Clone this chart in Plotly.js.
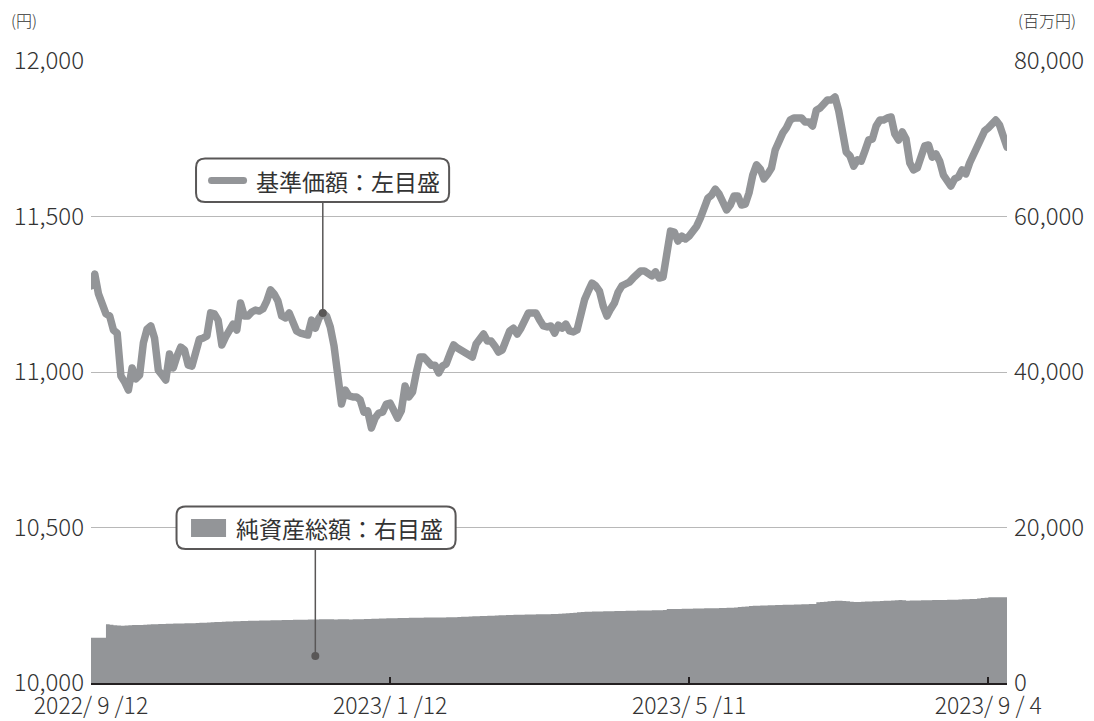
<!DOCTYPE html>
<html><head><meta charset="utf-8">
<script src="https://cdn.plot.ly/plotly-3.0.1.min.js"></script>
<style>
html,body{margin:0;padding:0;background:#fff;}
#chart{width:1094px;height:721px;}
.scatterlayer .js-line{stroke-linejoin:round;stroke-linecap:round;}
</style></head><body><div id="chart"></div>
<script>
// x categories: business-day index, ticks every 80 days
const tickIndex = [0, 80, 160, 240];
const tickLabels = ["2022/ 9 /12", "2023/ 1 /12", "2023/ 5 /11", "2023/ 9 / 4"];

// 基準価額 (円), left axis
const navPrice = [
11277,11315,11251,11215,11187,11180,11135,11125,10987,10968,
10942,11013,10978,10990,11093,11138,11148,11109,11006,10990,
10974,11058,11013,11051,11080,11071,11022,11019,11061,11106,
11109,11116,11190,11187,11167,11087,11113,11138,11154,11135,
11222,11180,11180,11193,11199,11196,11203,11228,11264,11251,
11228,11180,11174,11190,11154,11132,11125,11125,11119,11167,
11141,11174,11190,11180,11145,11084,10974,10897,10942,10923,
10920,10920,10910,10871,10875,10820,10852,10868,10871,10897,
10900,10875,10852,10875,10955,10920,10936,10997,11048,11048,
11032,11022,11022,10997,11019,11026,11058,11087,11077,11071,
11064,11055,11048,11090,11106,11122,11100,11100,11084,11064,
11071,11100,11132,11141,11122,11141,11174,11190,11190,11190,
11167,11148,11145,11148,11125,11151,11141,11154,11132,11129,
11135,11187,11232,11260,11286,11277,11260,11212,11180,11203,
11222,11257,11277,11283,11289,11302,11318,11325,11325,11315,
11309,11322,11302,11305,11376,11453,11450,11421,11437,11428,
11437,11450,11469,11495,11527,11559,11569,11588,11572,11543,
11521,11537,11566,11566,11537,11540,11576,11633,11666,11653,
11621,11637,11656,11714,11746,11768,11785,11810,11817,11817,
11817,11804,11804,11791,11842,11849,11862,11875,11875,11884,
11839,11768,11707,11695,11662,11682,11678,11711,11746,11749,
11791,11810,11810,11817,11820,11765,11746,11772,11749,11672,
11650,11656,11698,11727,11730,11691,11701,11678,11633,11614,
11598,11621,11627,11650,11637,11672,11698,11720,11749,11775,
11785,11797,11810,11794,11759,11723
];

// 純資産総額 (百万円), right axis
const netAssets = [
5830,5830,5830,5830,7550,7480,7420,7380,7370,7400,
7430,7450,7460,7470,7490,7520,7550,7570,7590,7600,
7610,7630,7640,7650,7660,7680,7690,7700,7720,7740,
7760,7780,7800,7830,7860,7880,7900,7920,7940,7950,
7970,7980,8000,8010,8020,8030,8040,8050,8060,8070,
8080,8090,8100,8110,8120,8130,8140,8150,8160,8170,
8180,8190,8190,8200,8190,8180,8190,8200,8190,8180,
8190,8200,8210,8220,8230,8250,8270,8290,8300,8320,
8330,8340,8350,8360,8370,8380,8390,8400,8400,8410,
8410,8420,8430,8430,8440,8450,8450,8470,8490,8510,
8530,8550,8570,8590,8610,8620,8640,8660,8680,8700,
8720,8740,8760,8770,8780,8790,8800,8810,8820,8830,
8830,8840,8850,8870,8890,8920,8950,8970,9000,9050,
9100,9140,9170,9180,9190,9200,9210,9220,9230,9240,
9250,9260,9270,9280,9290,9300,9310,9320,9330,9340,
9350,9360,9370,9390,9520,9520,9530,9530,9540,9550,
9560,9570,9580,9590,9600,9610,9620,9630,9640,9660,
9670,9690,9720,9760,9800,9850,9900,9940,9950,9960,
9970,9990,10000,10020,10030,10050,10060,10080,10090,10100,
10120,10130,10150,10160,10380,10420,10460,10500,10550,10590,
10590,10560,10500,10450,10420,10430,10450,10470,10490,10510,
10530,10550,10570,10590,10610,10640,10670,10630,10590,10600,
10610,10620,10630,10640,10650,10660,10670,10680,10690,10700,
10710,10720,10740,10760,10770,10790,10800,10860,10920,10980,
11020,11020,11020,11020,11020,11020
];

const idx = navPrice.map((_, i) => i);
const lastIdx = idx.length - 1;

const GREY = '#939598';
const DARK = '#595757';
const TXT = '#333333';
const FONT = '"Noto Sans CJK JP", "Noto Sans", sans-serif';

// pixel layout frame
const PL = 91, PR = 1006.7, PT = 61, PB = 683;
const Y_MIN = 10000, Y_MAX = 12000, Y2_MIN = 0, Y2_MAX = 80000;
const pX = px => (px - PL) / (PR - PL);
const pY = py => (PB - py) / (PB - PT);
const yVal = py => Y_MIN + (PB - py) / (PB - PT) * (Y_MAX - Y_MIN);
const y2Val = py => Y2_MIN + (PB - py) / (PB - PT) * (Y2_MAX - Y2_MIN);

function roundRect(x0, y0, x1, y1, r) {
  const P = (x, y) => pX(x).toFixed(5) + ',' + pY(y).toFixed(5);
  return 'M' + P(x0 + r, y0) + ' L' + P(x1 - r, y0) + ' Q' + P(x1, y0) + ' ' + P(x1, y0 + r) +
    ' L' + P(x1, y1 - r) + ' Q' + P(x1, y1) + ' ' + P(x1 - r, y1) +
    ' L' + P(x0 + r, y1) + ' Q' + P(x0, y1) + ' ' + P(x0, y1 - r) +
    ' L' + P(x0, y0 + r) + ' Q' + P(x0, y0) + ' ' + P(x0 + r, y0) + ' Z';
}

const traces = [
  {
    x: idx, y: netAssets, yaxis: 'y2', type: 'scatter', mode: 'lines',
    line: {width: 0, color: GREY, shape: 'hv'}, fill: 'tozeroy', fillcolor: GREY,
    hoverinfo: 'skip'
  },
  {
    x: idx, y: navPrice, type: 'scatter', mode: 'lines',
    line: {width: 7.5, color: GREY}, hoverinfo: 'skip'
  }
];

const lead1 = 62, lead2 = 60;
const shapes = [
  // leader lines
  {type: 'line', xref: 'x', yref: 'y', x0: lead1, x1: lead1, y0: yVal(200), y1: navPrice[lead1],
   line: {color: DARK, width: 1.5}, layer: 'above'},
  {type: 'line', xref: 'x', yref: 'y2', x0: lead2, x1: lead2, y0: y2Val(548), y1: y2Val(656),
   line: {color: DARK, width: 1.5}, layer: 'above'},
  // callout boxes
  {type: 'path', xref: 'paper', yref: 'paper', path: roundRect(196, 158.5, 449, 202, 9),
   fillcolor: '#ffffff', line: {color: DARK, width: 2}, layer: 'above'},
  {type: 'path', xref: 'paper', yref: 'paper', path: roundRect(176.5, 506.5, 455.5, 549, 9),
   fillcolor: '#ffffff', line: {color: DARK, width: 2}, layer: 'above'},
  // legend keys
  {type: 'path', xref: 'paper', yref: 'paper', path: roundRect(208, 177, 247, 184, 3.5),
   fillcolor: GREY, line: {width: 0}, layer: 'above'},
  {type: 'rect', xref: 'paper', yref: 'paper', x0: pX(191), x1: pX(226), y0: pY(519), y1: pY(537),
   fillcolor: GREY, line: {width: 0}, layer: 'above'},
  // dots
  {type: 'circle', xref: 'x', yref: 'y', xsizemode: 'pixel', ysizemode: 'pixel',
   xanchor: lead1, yanchor: navPrice[lead1], x0: -4, x1: 4, y0: -4, y1: 4,
   fillcolor: DARK, line: {width: 0}, layer: 'above'},
  {type: 'circle', xref: 'x', yref: 'y2', xsizemode: 'pixel', ysizemode: 'pixel',
   xanchor: lead2, yanchor: y2Val(656), x0: -4, x1: 4, y0: -4, y1: 4,
   fillcolor: DARK, line: {width: 0}, layer: 'above'}
];

const annotations = [
  {xref: 'paper', yref: 'paper', x: pX(254), y: pY(180.5), xanchor: 'left', yanchor: 'middle',
   text: '基準価額：左目盛', showarrow: false, font: {size: 23, color: TXT, family: FONT}},
  {xref: 'paper', yref: 'paper', x: pX(234), y: pY(528), xanchor: 'left', yanchor: 'middle',
   text: '純資産総額：右目盛', showarrow: false, font: {size: 23, color: TXT, family: FONT}},
  {xref: 'paper', yref: 'paper', x: pX(9), y: pY(20), xanchor: 'left', yanchor: 'middle',
   text: '(円)', showarrow: false, font: {size: 16, color: TXT, family: FONT, weight: 300}},
  {xref: 'paper', yref: 'paper', x: pX(1016), y: pY(20), xanchor: 'left', yanchor: 'middle',
   text: '(百万円)', showarrow: false, font: {size: 16, color: TXT, family: FONT, weight: 300}}
];

const TICKFONT = {size: 24, color: TXT, family: FONT, weight: 300};

const layout = {
  width: 1094, height: 721,
  margin: {l: PL, r: 1094 - PR, t: PT, b: 721 - PB},
  paper_bgcolor: '#ffffff', plot_bgcolor: '#ffffff',
  showlegend: false,
  font: {family: FONT, color: TXT, size: 22},
  xaxis: {
    range: [0, lastIdx], showgrid: false, zeroline: false,
    showline: true, linecolor: '#231f20', linewidth: 2,
    ticks: 'inside', ticklen: 6, tickwidth: 2, tickcolor: '#231f20',
    tickmode: 'array', tickvals: tickIndex, ticktext: tickLabels,
    ticklabelstandoff: 1,
    tickfont: {size: 23, color: TXT, family: FONT, weight: 300}
  },
  yaxis: {
    range: [Y_MIN, Y_MAX], dtick: 500, tick0: Y_MIN, tickformat: ',d',
    showgrid: true, gridcolor: '#b8b8b8', gridwidth: 1,
    zeroline: false, showline: false, ticks: '',
    ticklabelstandoff: 6,
    tickfont: TICKFONT
  },
  yaxis2: {
    overlaying: 'y', side: 'right',
    range: [Y2_MIN, Y2_MAX], dtick: 20000, tick0: 0, tickformat: ',d',
    showgrid: false, zeroline: false, showline: false, ticks: '',
    ticklabelstandoff: 6,
    tickfont: TICKFONT
  },
  shapes: shapes,
  annotations: annotations
};

Plotly.newPlot('chart', traces, layout, {staticPlot: true, displayModeBar: false});
</script></body></html>
